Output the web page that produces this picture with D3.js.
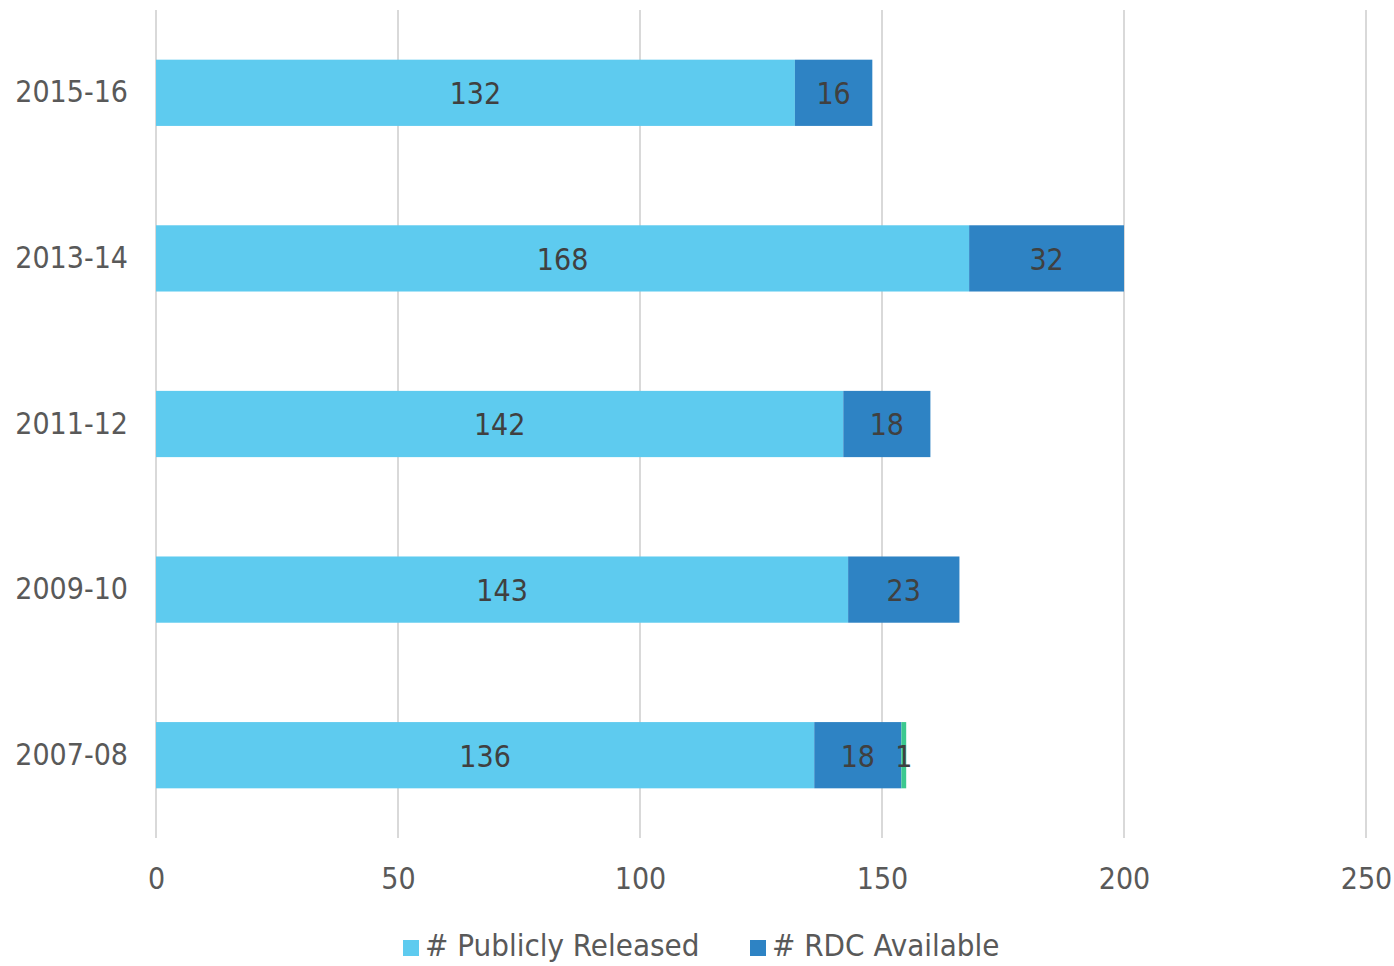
<!DOCTYPE html>
<html>
<head>
<meta charset="utf-8">
<script src="https://cdn.jsdelivr.net/npm/d3@7"></script>
<style>
  body { margin: 0; background: #fff; }
  text { font-family: "DejaVu Sans Condensed", "DejaVu Sans", sans-serif; }
</style>
</head>
<body>
<div id="plot"></div>
<script>
// values
const years = ["2015-16", "2013-14", "2011-12", "2009-10", "2007-08"];
const publiclyReleased = [132, 168, 142, 143, 136];
const rdcAvailable = [16, 32, 18, 23, 18];
const thirdSeries = [0, 0, 0, 0, 1];
const xTicks = [0, 50, 100, 150, 200, 250];

const seriesNames = ["# Publicly Released", "# RDC Available", "# Other"];
const colors = ["#5ECBEF", "#2E83C4", "#3CC98F"];

const W = 1394, H = 966;
const margin = {top: 10, right: 28, bottom: 128, left: 156};
const width = W - margin.left - margin.right;
const height = H - margin.top - margin.bottom;

const rows = years.map((y, i) => ({
  year: y,
  s0: publiclyReleased[i],
  s1: rdcAvailable[i],
  s2: thirdSeries[i]
}));

const stack = d3.stack().keys(["s0", "s1", "s2"]);
const stacked = stack(rows);

const svg = d3.select("#plot").append("svg")
  .attr("width", W)
  .attr("height", H)
  .append("g")
  .attr("transform", `translate(${margin.left},${margin.top})`);

const x = d3.scaleLinear().domain([0, 250]).range([0, width]);
const y = d3.scaleBand().domain(years).range([0, height]).paddingInner(0.6).paddingOuter(0.3);

// gridlines
svg.append("g")
  .selectAll("line")
  .data(xTicks)
  .join("line")
  .attr("x1", d => x(d)).attr("x2", d => x(d))
  .attr("y1", 0).attr("y2", height)
  .attr("stroke", "#d9d9d9")
  .attr("stroke-width", 2);

// bars
svg.append("g")
  .selectAll("g")
  .data(stacked)
  .join("g")
  .attr("fill", (d, i) => colors[i])
  .selectAll("rect")
  .data(d => d)
  .join("rect")
  .attr("x", d => x(d[0]))
  .attr("y", d => y(d.data.year))
  .attr("width", d => x(d[1]) - x(d[0]))
  .attr("height", y.bandwidth());

// data labels
svg.append("g")
  .selectAll("g")
  .data(stacked)
  .join("g")
  .selectAll("text")
  .data(d => d.filter(p => p[1] - p[0] > 0))
  .join("text")
  .attr("x", d => x((d[0] + d[1]) / 2))
  .attr("y", d => y(d.data.year) + y.bandwidth() / 2)
  .attr("dy", "0.38em")
  .attr("text-anchor", "middle")
  .attr("fill", "#404040")
  .attr("font-size", 30)
  .text(d => d[1] - d[0]);

// x axis
const xAxis = svg.append("g")
  .attr("transform", `translate(0,${height})`)
  .call(d3.axisBottom(x).tickValues(xTicks).tickSize(0).tickPadding(30));
xAxis.select(".domain").remove();
xAxis.selectAll("text")
  .attr("fill", "#595959")
  .attr("font-size", 30)
  .style("font-family", "'DejaVu Sans Condensed', 'DejaVu Sans', sans-serif");

// y axis
const yAxis = svg.append("g")
  .call(d3.axisLeft(y).tickSize(0).tickPadding(28));
yAxis.select(".domain").remove();
yAxis.selectAll("text")
  .attr("fill", "#595959")
  .attr("font-size", 30)
  .style("font-family", "'DejaVu Sans Condensed', 'DejaVu Sans', sans-serif");

// legend (only first two entries fit in view)
const legend = d3.select("svg").append("g")
  .attr("transform", "translate(403,945)");
const legendItems = [
  {name: seriesNames[0], color: colors[0], x: 0},
  {name: seriesNames[1], color: colors[1], x: 347}
];
const li = legend.selectAll("g").data(legendItems).join("g")
  .attr("transform", d => `translate(${d.x},0)`);
li.append("rect")
  .attr("x", 0).attr("y", -5)
  .attr("width", 16).attr("height", 16)
  .attr("fill", d => d.color);
li.append("text")
  .attr("x", 22).attr("y", 0)
  .attr("dy", "0.36em")
  .attr("fill", "#595959")
  .attr("font-size", 31)
  .text(d => d.name);
</script>
</body>
</html>
